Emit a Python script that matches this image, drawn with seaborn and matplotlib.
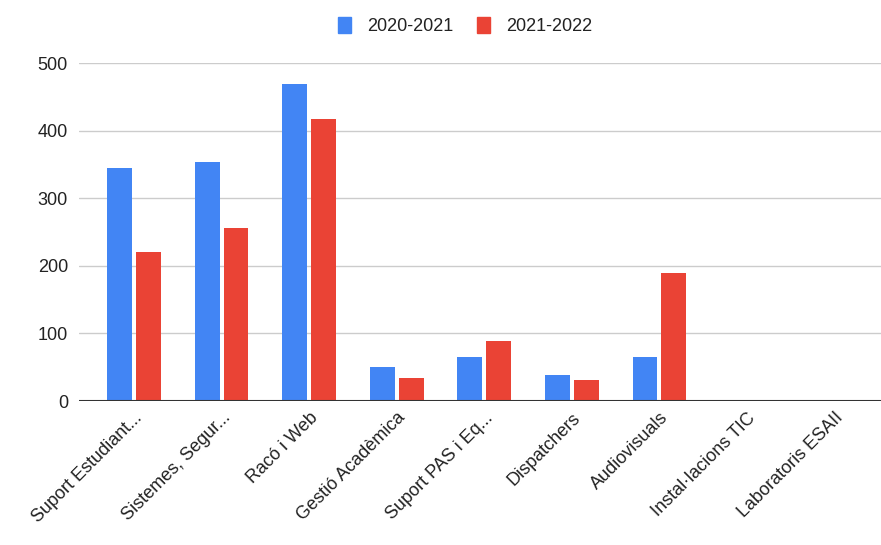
import matplotlib
matplotlib.use("Agg")
import matplotlib.pyplot as plt
import matplotlib.patches as mpatches
import seaborn as sns
import pandas as pd

categories = ["Suport Estudiant...", "Sistemes, Segur...", "Racó i Web", "Gestió Acadèmica",
              "Suport PAS i Eq...", "Dispatchers", "Audiovisuals", "Instal·lacions TIC",
              "Laboratoris ESAII"]
series_names = ["2020-2021", "2021-2022"]
values_2020 = [344, 353, 469, 50, 65, 38, 65, 0, 0]
values_2021 = [221, 256, 417, 34, 89, 31, 189, 0, 2]
colors = ["#4285F4", "#EA4335"]
y_ticks = [0, 100, 200, 300, 400, 500]

df = pd.DataFrame({
    "cat": categories * 2,
    "val": values_2020 + values_2021,
    "series": [series_names[0]] * len(categories) + [series_names[1]] * len(categories),
})

sns.set_theme(style="white")
plt.rcParams["font.family"] = ["Liberation Sans", "DejaVu Sans"]

fig = plt.figure(figsize=(8.81, 5.45), dpi=100)
ax = fig.add_axes([79/881, 1-401/545, 1-79/881, (401-63)/545])

sns.barplot(data=df, x="cat", y="val", hue="series", order=categories,
            hue_order=series_names, palette=colors, width=0.66, gap=0.14,
            ax=ax, legend=False, saturation=1, linewidth=0)

ax.set_ylim(0, 500)
ax.set_xlim(-0.628, 8.53)
ax.set_yticks(y_ticks)
ax.set_yticklabels([str(v) for v in y_ticks], fontsize=13, color="#222222")
ax.yaxis.grid(True, color="#cccccc", linewidth=1)
ax.set_axisbelow(True)
for s in ax.spines.values():
    s.set_visible(False)
ax.axhline(0, color="#333333", linewidth=1.5, zorder=5)
ax.tick_params(axis="both", length=0, pad=8)
ax.set_xlabel("")
ax.set_ylabel("")
ax.set_xticks(range(len(categories)))
ax.set_xticklabels(categories, rotation=45, ha="right", rotation_mode="anchor",
                   fontsize=13, color="#222222")
ax.tick_params(axis="x", pad=6)

handles = [mpatches.Patch(color=c, label=n) for c, n in zip(colors, series_names)]
fig.legend(handles=handles, loc="center", bbox_to_anchor=(0.528, 0.952), ncol=2,
           frameon=False, fontsize=13, handlelength=0.7, handleheight=1.0,
           handletextpad=0.9, columnspacing=1.3, labelcolor="#222222")

fig.savefig("out.png", dpi=100)
